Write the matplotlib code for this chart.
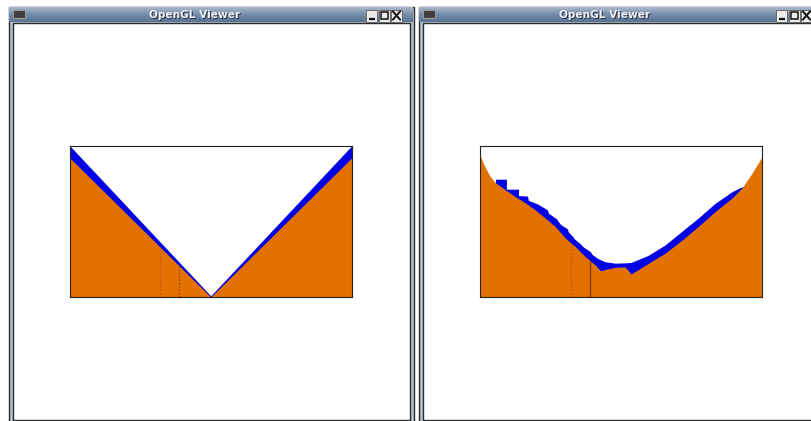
import numpy as np
import matplotlib
matplotlib.use('Agg')
import matplotlib.pyplot as plt
from matplotlib.patches import Rectangle

# viewport coords: x 0..1 across the box, y 0..1 from box bottom to top
left_x = [0.0, 0.5, 1.0]
left_orange = [0.92, 0.0, 0.92]
left_blue = [1.0, 0.008, 1.0]

right_x = [0.0, 0.018, 0.035, 0.053, 0.089, 0.124, 0.160, 0.195, 0.230, 0.266,
           0.301, 0.337, 0.372, 0.408, 0.426, 0.450, 0.479, 0.514, 0.535, 0.596,
           0.656, 0.716, 0.773, 0.833, 0.894, 0.929, 0.965, 1.0]
right_orange = [0.929, 0.854, 0.797, 0.757, 0.709, 0.664, 0.623, 0.576, 0.523, 0.466,
                0.391, 0.333, 0.268, 0.212, 0.174, 0.185, 0.197, 0.199, 0.152, 0.223,
                0.291, 0.377, 0.466, 0.565, 0.656, 0.722, 0.821, 0.929]

blue_x = [0.053, 0.053, 0.092, 0.092, 0.135, 0.135, 0.167, 0.170, 0.202, 0.238,
          0.241, 0.270, 0.284, 0.309, 0.312, 0.326, 0.333, 0.355, 0.362, 0.390,
          0.397, 0.418, 0.443, 0.479, 0.514, 0.535, 0.596, 0.656, 0.716, 0.773,
          0.833, 0.894, 0.922, 0.933]
blue_y = [0.757, 0.780, 0.780, 0.714, 0.714, 0.672, 0.668, 0.640, 0.617, 0.577,
          0.556, 0.517, 0.481, 0.451, 0.430, 0.405, 0.386, 0.352, 0.336, 0.301,
          0.281, 0.254, 0.233, 0.224, 0.226, 0.229, 0.276, 0.345, 0.436, 0.522,
          0.620, 0.698, 0.724, 0.732]

marker_x = [0.320, 0.388]
title = 'OpenGL Viewer'

ORANGE = '#e37100'
BLUE = '#0000e6'

W, H = 811, 421
fig = plt.figure(figsize=(W / 100, H / 100), dpi=100)
fig.patch.set_facecolor('white')

# window chrome, drawn in pixel coords
bg = fig.add_axes([0, 0, 1, 1])
bg.set_xlim(0, W)
bg.set_ylim(H, 0)
bg.axis('off')

grad = np.linspace(0, 1, 16).reshape(-1, 1)
cmap = matplotlib.colors.LinearSegmentedColormap.from_list('tb', ['#a7b7ca', '#748ca9', '#5b7493'])

def window(x0, x1):
    bg.add_patch(Rectangle((x0 + 0.5, 6.5), x1 - x0, 416, facecolor='#b3c1d1', edgecolor='#2c2c2c', lw=1))
    bg.imshow(grad, cmap=cmap, extent=(x0 + 1, x1, 22, 7), aspect='auto', zorder=2)
    bg.add_patch(Rectangle((x0 + 4.5, 22.5), x1 - x0 - 8, 397, facecolor='white', edgecolor='#2c2c2c', lw=1, zorder=3))
    # icon
    bg.add_patch(Rectangle((x0 + 5, 10), 12, 8, facecolor='#3e3e3e', edgecolor='#9a9a9a', lw=0.8, zorder=4))
    cx = x0 + 187
    bg.text(cx + 0.7, 15.7, title, color='#2a3444', fontsize=7.6, fontweight='bold',
            ha='center', va='center', zorder=4)
    bg.text(cx, 15, title, color='#eef1f5', fontsize=7.6, fontweight='bold',
            ha='center', va='center', zorder=5)
    # buttons
    bx = x0 + 358
    for i in range(3):
        b = bx + i * 12.5
        bg.add_patch(Rectangle((b, 9.5), 11, 12, facecolor='#e9e9e9', edgecolor='#6a6a6a', lw=0.7, zorder=4))
        if i == 0:
            bg.plot([b + 2.5, b + 8.5], [18.5, 18.5], color='#111', lw=1.6, zorder=5, solid_capstyle='butt')
        elif i == 1:
            bg.add_patch(Rectangle((b + 2, 12), 7, 7, facecolor='none', edgecolor='#111', lw=1.1, zorder=5))
        else:
            bg.plot([b + 2, b + 9], [11.5, 19.5], color='#111', lw=1.4, zorder=5)
            bg.plot([b + 2, b + 9], [19.5, 11.5], color='#111', lw=1.4, zorder=5)

window(8, 413)
window(418, 823)


def viewport(px0, xs, orange, bx, by, styles):
    ax = fig.add_axes([px0 / W, (H - 297) / H, 281.5 / W, 151 / H])
    ax.set_xlim(0, 1)
    ax.set_ylim(0, 1)
    ax.set_facecolor('white')
    ax.fill_between(bx, 0, by, color=BLUE, lw=0)
    ax.fill_between(xs, 0, orange, color=ORANGE, lw=0)
    for mx, ls, c in zip(marker_x, styles, ['#a8520c', '#7c3500']):
        ax.vlines(mx, 0, np.interp(mx, xs, orange), colors=c, linestyles=ls, lw=0.9)
    ax.set_xticks([])
    ax.set_yticks([])
    for s in ax.spines.values():
        s.set_linewidth(0.8)
        s.set_color('#222222')
    ax.set_zorder(10)
    return ax

viewport(70, left_x, left_orange, left_x, left_blue, [':', ':'])
viewport(480.5, right_x, right_orange, blue_x, blue_y, [':', '-'])

fig.savefig('out.png', dpi=100)
